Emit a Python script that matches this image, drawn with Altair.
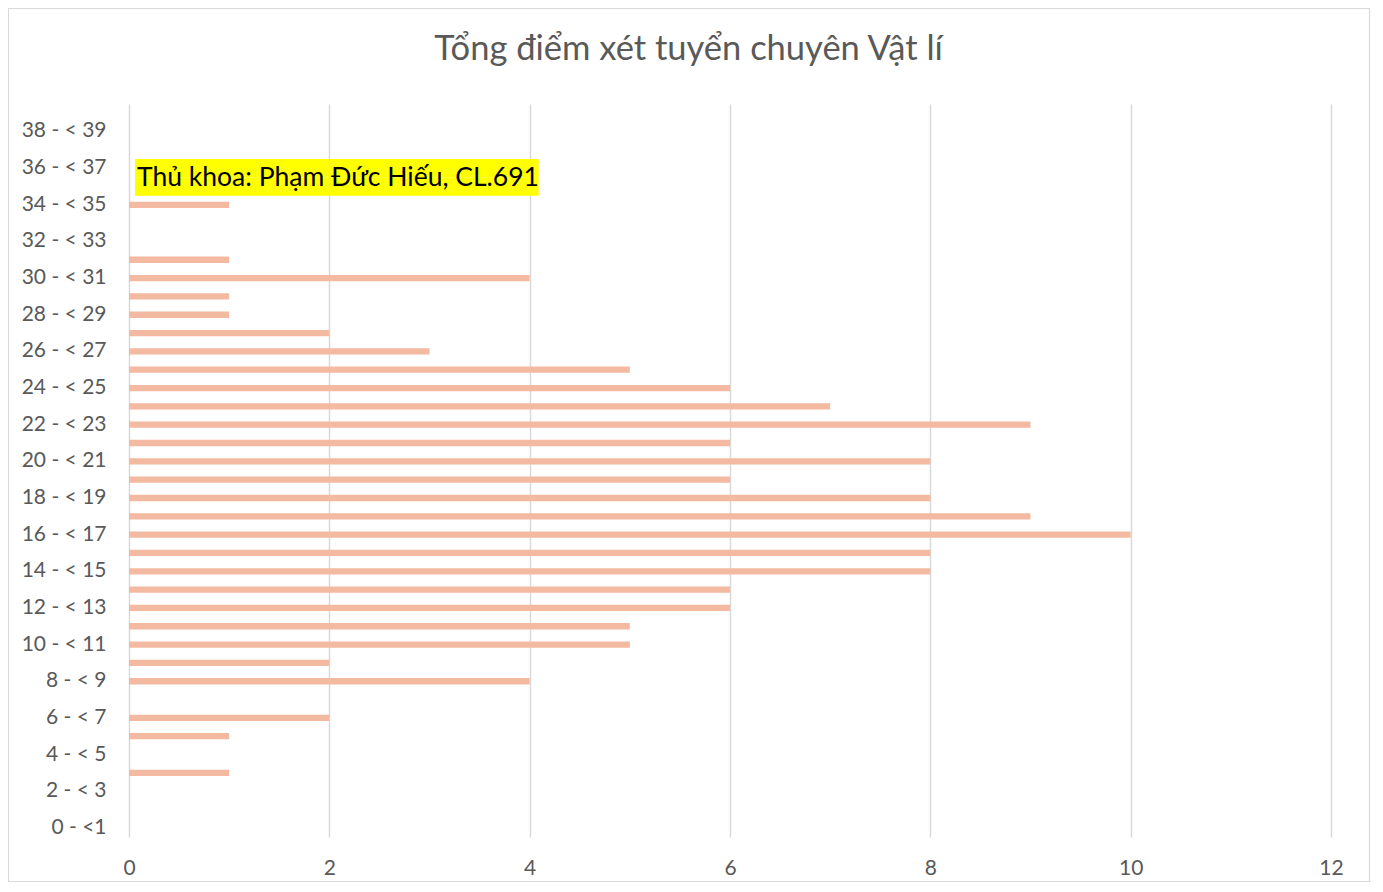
import altair as alt
import pandas as pd

categories = [
    "0 - <1", "1 - < 2", "2 - < 3", "3 - < 4", "4 - < 5", "5 - < 6", "6 - < 7", "7 - < 8",
    "8 - < 9", "9 - < 10", "10 - < 11", "11 - < 12", "12 - < 13", "13 - < 14", "14 - < 15",
    "15 - < 16", "16 - < 17", "17 - < 18", "18 - < 19", "19 - < 20", "20 - < 21", "21 - < 22",
    "22 - < 23", "23 - < 24", "24 - < 25", "25 - < 26", "26 - < 27", "27 - < 28", "28 - < 29",
    "29 - < 30", "30 - < 31", "31 - < 32", "32 - < 33", "33 - < 34", "34 - < 35", "35 - < 36",
    "36 - < 37", "37 - < 38", "38 - < 39", "39 - < 40",
]
counts = [0, 0, 0, 1, 0, 1, 2, 0, 4, 2, 5, 5, 6, 6, 8, 8, 10, 9, 8, 6,
          8, 6, 9, 7, 6, 5, 3, 2, 1, 1, 4, 1, 0, 0, 1, 0, 0, 0, 0, 0]
shown_labels = categories[0::2]
x_ticks = [0, 2, 4, 6, 8, 10, 12]

title_text = "Tổng điểm xét tuyển chuyên Vật lí"
note_text = "Thủ khoa: Phạm Đức Hiếu, CL.691"
note_rows = ["36 - < 37", "35 - < 36"]
note_x_start = 0.06
note_x_end = 4.09
note_text_x = 0.08

W, H = 1202, 733
PL, PT, PR, PB = 121, 96, 40, 46
FONT = "Lato"
GREY = "#595959"

df = pd.DataFrame({"cat": categories, "n": counts})
ydomain = categories[::-1]

yscale = alt.Scale(domain=ydomain, paddingInner=0, paddingOuter=0)
xscale = alt.Scale(domain=[0, 12], nice=False)

bars = alt.Chart(df).mark_bar(size=6.3, color="#F4B9A1").encode(
    x=alt.X("n:Q", scale=xscale,
            axis=alt.Axis(values=x_ticks, format="d", title=None, grid=True, gridColor="#d9d9d9",
                          gridWidth=1.5, domain=False, ticks=False, labelFont=FONT,
                          labelFontSize=21, labelColor=GREY, labelPadding=20,
                          labelFlush=False, labelBound=False, labelOverlap=False)),
    y=alt.Y("cat:N", scale=yscale, sort=ydomain,
            axis=alt.Axis(values=shown_labels, title=None, grid=False, domain=False,
                          ticks=False, labelFont=FONT, labelFontSize=21,
                          labelColor=GREY, labelPadding=23)),
)

note_df = pd.DataFrame({"cat": note_rows, "x0": [note_x_start] * 2, "x1": [note_x_end] * 2})
note_box = alt.Chart(note_df).mark_rect(color="#FFFF00").encode(
    x=alt.X("x0:Q", scale=xscale),
    x2="x1:Q",
    y=alt.Y("cat:N", scale=yscale, sort=ydomain),
)

note_label = alt.Chart(pd.DataFrame({"cat": [note_rows[0]], "x": [note_text_x], "t": [note_text]})).mark_text(
    align="left", baseline="middle", dy=10, font=FONT, fontSize=26.5, color="black"
).encode(
    x=alt.X("x:Q", scale=xscale),
    y=alt.Y("cat:N", scale=yscale, sort=ydomain),
    text="t:N",
)

title_mark = alt.Chart(pd.DataFrame({"t": [title_text]})).mark_text(
    align="center", baseline="middle", font=FONT, fontSize=34.5, color=GREY
).encode(
    x=alt.value(559.5), y=alt.value(-54), text="t:N",
)

frame = alt.Chart(pd.DataFrame({"a": [0]})).mark_rect(
    fill=None, stroke="#d9d9d9", strokeWidth=1.2
).encode(
    x=alt.value(-PL + 0.5), x2=alt.value(W + PR - 1.5),
    y=alt.value(-PT + 0.5), y2=alt.value(H + PB - 1.5),
)

chart = alt.layer(frame, bars, note_box, note_label, title_mark).properties(
    width=W, height=H,
    autosize=alt.AutoSizeParams(type="none"),
    padding={"left": PL, "top": PT, "right": PR, "bottom": PB},
).configure(background="white").configure_view(strokeWidth=0, stroke="transparent")

chart.save("out.html", embed_options={"renderer": "svg", "actions": False})
